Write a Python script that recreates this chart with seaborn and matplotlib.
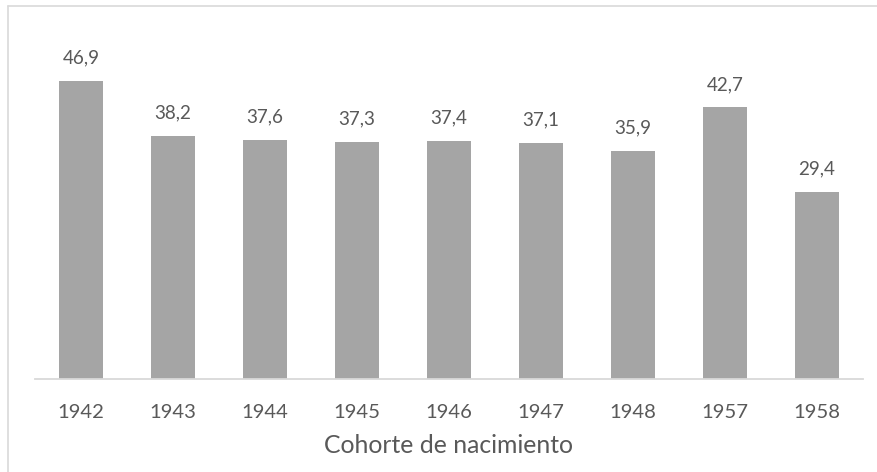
import matplotlib
matplotlib.use("Agg")
import matplotlib.pyplot as plt
import seaborn as sns
import pandas as pd
from matplotlib.lines import Line2D

cohortes = ["1942", "1943", "1944", "1945", "1946", "1947", "1948", "1957", "1958"]
valores = [46.9, 38.2, 37.6, 37.3, 37.4, 37.1, 35.9, 42.7, 29.4]

df = pd.DataFrame({"cohorte": cohortes, "valor": valores})

sns.set_theme(style="white")
plt.rcParams["font.family"] = ["Lato", "DejaVu Sans"]

texto = "#595959"
fig = plt.figure(figsize=(8.77, 4.72), dpi=100)
ax = fig.add_axes([35 / 877, 1 - 379 / 472, (863 - 35) / 877, (379 - 61) / 472])

sns.barplot(data=df, x="cohorte", y="valor", color="#a5a5a5", saturation=1,
            width=0.48, edgecolor="none", ax=ax)

ax.set_ylim(0, 50)
ax.set_xlim(-0.5, len(cohortes) - 0.5)
ax.set_yticks([])
ax.set_ylabel("")
ax.set_xlabel("Cohorte de nacimiento", fontsize=17.8, color=texto, labelpad=9.5)
ax.tick_params(axis="x", length=0, pad=18, labelsize=14.6, labelcolor=texto)

for s in ["top", "right", "left"]:
    ax.spines[s].set_visible(False)
ax.spines["bottom"].set_color("#d9d9d9")
ax.spines["bottom"].set_linewidth(1.3)

for i, v in enumerate(valores):
    ax.annotate(f"{v:.1f}".replace(".", ","), (i, v), xytext=(0, 12.5),
                textcoords="offset points", ha="center", va="baseline",
                fontsize=13.6, color=texto)

# marco exterior del gráfico
fig.add_artist(Line2D([7.5 / 877, 7.5 / 877], [0, 1 - 6 / 472], transform=fig.transFigure,
                      color="#d9d9d9", lw=1.2))
fig.add_artist(Line2D([7.5 / 877, 1], [1 - 6 / 472, 1 - 6 / 472], transform=fig.transFigure,
                      color="#d9d9d9", lw=1.2))

fig.savefig("out.png", dpi=100, facecolor="white")
